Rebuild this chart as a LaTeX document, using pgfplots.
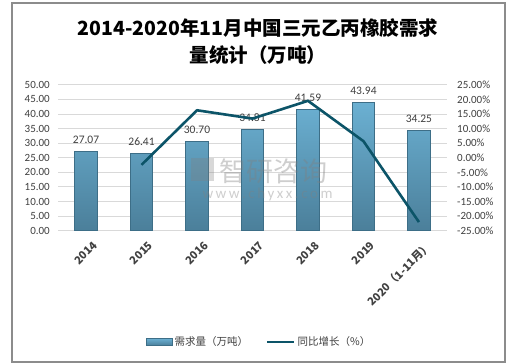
\documentclass[border=0pt]{standalone}
\usepackage{fontspec}
\setmainfont{Carlito}
\newfontfamily\cjk{Noto Sans CJK SC}
\usepackage{pgfplots}
\pgfplotsset{compat=1.18}
\definecolor{barA}{HTML}{6BB0D2}
\definecolor{barB}{HTML}{4B7F9A}
\definecolor{barEdge}{HTML}{3D6E87}
\definecolor{lineC}{HTML}{0C5468}
\definecolor{txt}{HTML}{404040}
\definecolor{gridc}{HTML}{D9D9D9}
\definecolor{framec}{HTML}{8C8C8C}
\begin{document}
\begin{tikzpicture}
\useasboundingbox (0pt,0pt) rectangle (520pt,364pt);
\fill[white] (0pt,0pt) rectangle (520pt,364pt);
\node[font=\cjk\bfseries\fontsize{19.5}{27}\selectfont, align=center, text=black] at (258pt,322.5pt) {2014-2020年11月中国三元乙丙橡胶需求\\量统计（万吨）};
\begin{axis}[
  at={(58.3pt,133.3pt)}, anchor=south west, scale only axis,
  width=388.4pt, height=146pt,
  xmin=-0.5, xmax=6.5, ymin=0, ymax=50,
  ytick={0,5,...,50},
  xtick={0,...,6},
  xticklabels={2014,2015,2016,2017,2018,2019,{2020（1-11月）}},
  x tick label style={rotate=45, anchor=north east, font=\cjk\bfseries\fontsize{11}{12}\selectfont, text=txt, yshift=-5pt, xshift=4pt},
  /pgf/number format/assume math mode=true,
  yticklabel style={/pgf/number format/fixed, /pgf/number format/fixed zerofill, /pgf/number format/precision=2, font=\fontsize{11}{12}\selectfont, text=txt, xshift=-5pt},
  ymajorgrids, grid style={gridc, line width=0.8pt},
  axis line style={draw=none},
  major tick style={draw=none},
  ybar, bar width=22.5pt,
  nodes near coords,
  every node near coord/.append style={font=\fontsize{11.5}{12}\selectfont, text=txt, yshift=4pt, /pgf/number format/fixed, /pgf/number format/fixed zerofill, /pgf/number format/precision=2},
  legend style={at={(0.517,-0.762)}, anchor=center, legend columns=2, draw=none, fill=none, font=\cjk\fontsize{10.5}{12}\selectfont, text=txt, /tikz/every even column/.append style={column sep=16pt}},
]
\addplot[draw=barEdge, line width=0.6pt, top color=barA, bottom color=barB,
  legend image code/.code={\draw[barEdge, line width=0.6pt, top color=barA, bottom color=barB] (0pt,-3.5pt) rectangle (26pt,3.5pt);}]
  coordinates {(0,27.07) (1,26.41) (2,30.70) (3,34.81) (4,41.59) (5,43.94) (6,34.25)};
\addlegendentry{需求量（万吨）}
\addlegendimage{legend image code/.code={\draw[lineC, line width=2.6pt] (0pt,0pt) -- (27pt,0pt);}}
\addlegendentry{同比增长（\%）}
\end{axis}
\begin{axis}[
  at={(58.3pt,133.3pt)}, anchor=south west, scale only axis,
  width=388.4pt, height=146pt,
  xmin=-0.5, xmax=6.5, ymin=-25, ymax=25,
  ytick={-25,-20,...,25},
  axis y line*=right, axis x line=none,
  axis line style={draw=none},
  major tick style={draw=none},
  /pgf/number format/assume math mode=true,
  yticklabel={\pgfmathprintnumber[fixed,fixed zerofill,precision=2]{\tick}\%},
  yticklabel style={font=\fontsize{11}{12}\selectfont, text=txt, xshift=7pt, anchor=west},
]
\addplot[lineC, line width=2.6pt, line join=round] coordinates {(1,-2.44) (2,16.24) (3,13.39) (4,19.48) (5,5.65) (6,-22.05)};
\end{axis}
\node[font=\cjk\fontsize{27}{30}\selectfont, text=gray, opacity=0.38, anchor=west] at (216pt,193pt) {智研咨询};
\node[font=\fontsize{15}{16}\selectfont, text=gray, opacity=0.38, anchor=west] at (199pt,169pt) {w\,w\,w\,.\,c\,h\,y\,x\,x\,.\,c\,o\,m};
\fill[gray, opacity=0.3] (191pt,183pt) rectangle (214pt,206pt);
\draw[framec, line width=1.2pt] (12pt,2pt) rectangle (505pt,361pt);
\end{tikzpicture}
\end{document}
